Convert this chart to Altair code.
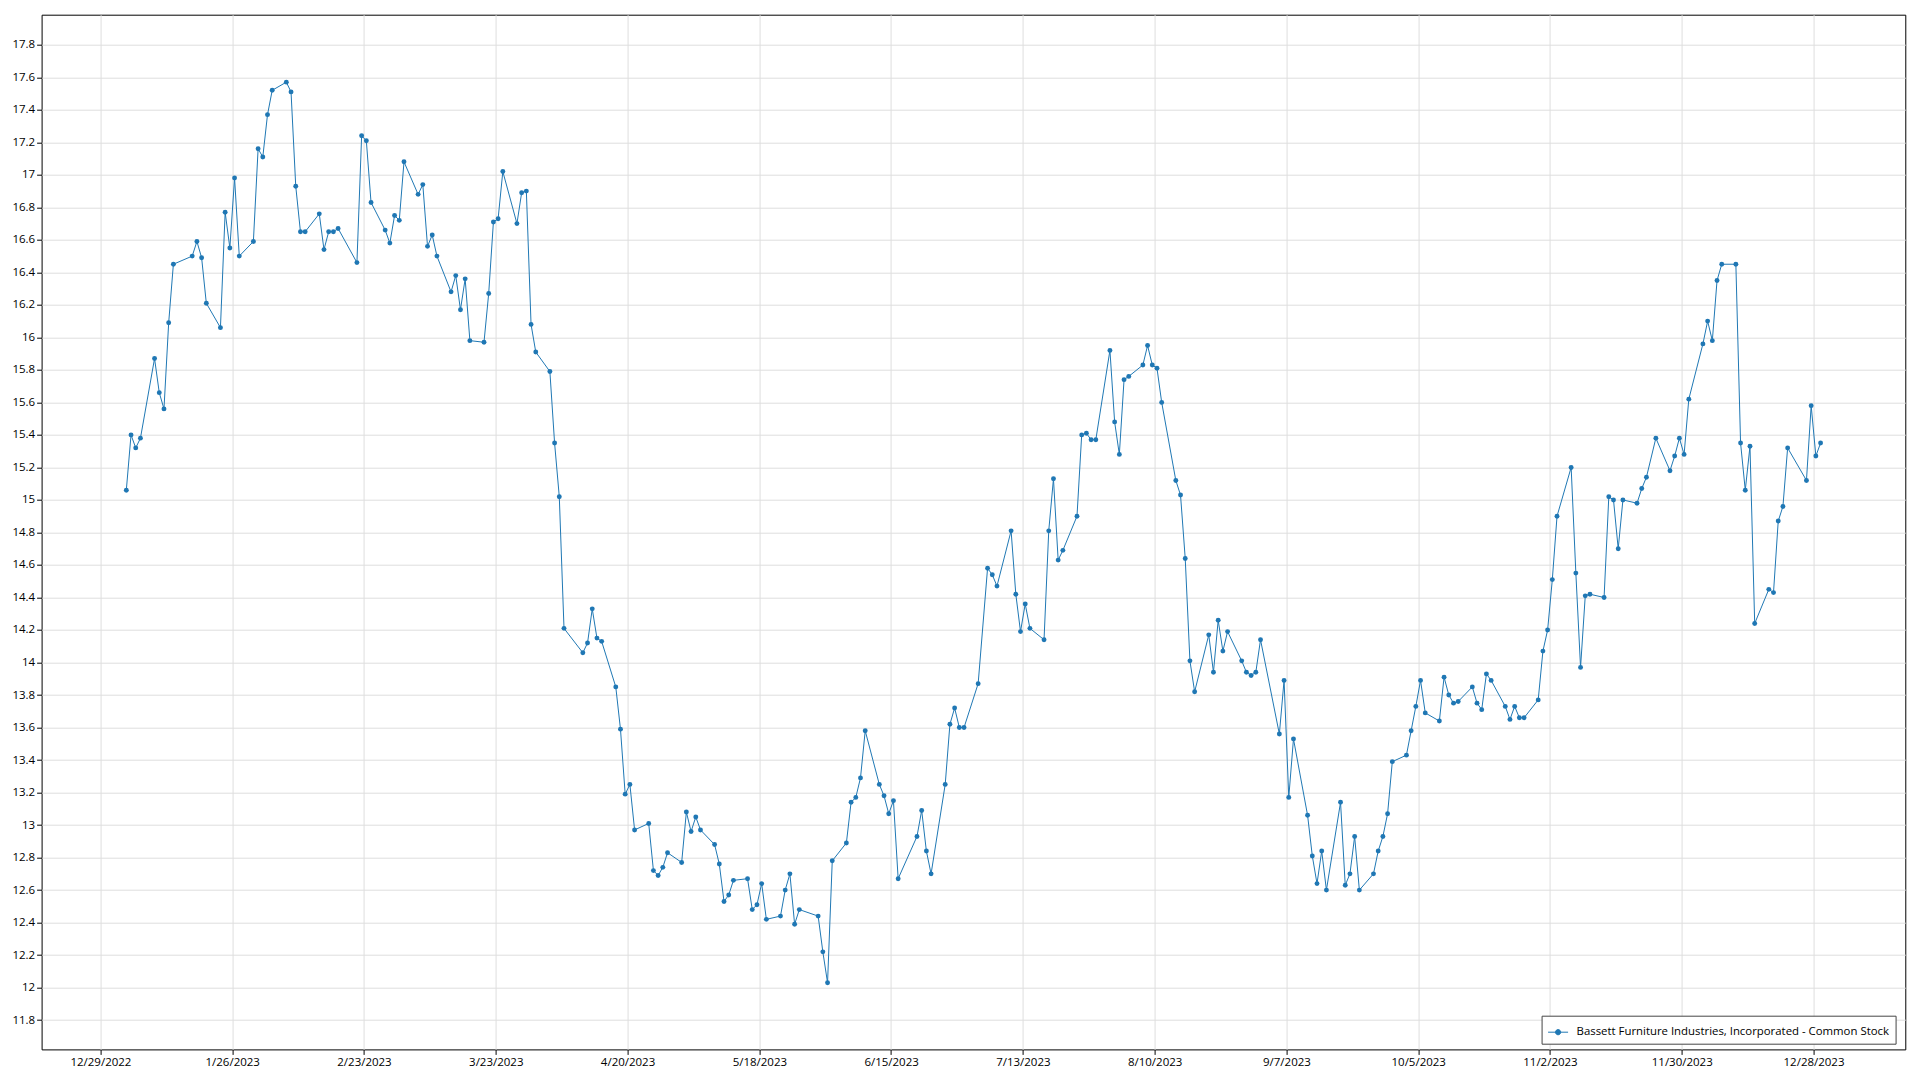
import altair as alt
import pandas as pd

SERIES = "Bassett Furniture Industries, Incorporated - Common Stock"
BLUE = "#1f77b4"

dates = [
    "2023-01-03", "2023-01-04", "2023-01-05", "2023-01-06", "2023-01-09", "2023-01-10", "2023-01-11", "2023-01-12",
    "2023-01-13", "2023-01-17", "2023-01-18", "2023-01-19", "2023-01-20", "2023-01-23", "2023-01-24", "2023-01-25",
    "2023-01-26", "2023-01-27", "2023-01-30", "2023-01-31",
    "2023-02-01", "2023-02-02", "2023-02-03", "2023-02-06", "2023-02-07", "2023-02-08", "2023-02-09", "2023-02-10",
    "2023-02-13", "2023-02-14", "2023-02-15", "2023-02-16", "2023-02-17", "2023-02-21", "2023-02-22", "2023-02-23",
    "2023-02-24", "2023-02-27", "2023-02-28",
    "2023-03-01", "2023-03-02", "2023-03-03", "2023-03-06", "2023-03-07", "2023-03-08", "2023-03-09", "2023-03-10",
    "2023-03-13", "2023-03-14", "2023-03-15", "2023-03-16", "2023-03-17", "2023-03-20", "2023-03-21", "2023-03-22",
    "2023-03-23", "2023-03-24", "2023-03-27", "2023-03-28", "2023-03-29", "2023-03-30", "2023-03-31",
    "2023-04-03", "2023-04-04", "2023-04-05", "2023-04-06", "2023-04-10", "2023-04-11", "2023-04-12", "2023-04-13",
    "2023-04-14", "2023-04-17", "2023-04-18", "2023-04-19", "2023-04-20", "2023-04-21", "2023-04-24", "2023-04-25",
    "2023-04-26", "2023-04-27", "2023-04-28",
    "2023-05-01", "2023-05-02", "2023-05-03", "2023-05-04", "2023-05-05", "2023-05-08", "2023-05-09", "2023-05-10",
    "2023-05-11", "2023-05-12", "2023-05-15", "2023-05-16", "2023-05-17", "2023-05-18", "2023-05-19", "2023-05-22",
    "2023-05-23", "2023-05-24", "2023-05-25", "2023-05-26", "2023-05-30", "2023-05-31",
    "2023-06-01", "2023-06-02", "2023-06-05", "2023-06-06", "2023-06-07", "2023-06-08", "2023-06-09", "2023-06-12",
    "2023-06-13", "2023-06-14", "2023-06-15", "2023-06-16", "2023-06-20", "2023-06-21", "2023-06-22", "2023-06-23",
    "2023-06-26", "2023-06-27", "2023-06-28", "2023-06-29", "2023-06-30",
    "2023-07-03", "2023-07-05", "2023-07-06", "2023-07-07", "2023-07-10", "2023-07-11", "2023-07-12", "2023-07-13",
    "2023-07-14", "2023-07-17", "2023-07-18", "2023-07-19", "2023-07-20", "2023-07-21", "2023-07-24", "2023-07-25",
    "2023-07-26", "2023-07-27", "2023-07-28", "2023-07-31",
    "2023-08-01", "2023-08-02", "2023-08-03", "2023-08-04", "2023-08-07", "2023-08-08", "2023-08-09", "2023-08-10",
    "2023-08-11", "2023-08-14", "2023-08-15", "2023-08-16", "2023-08-17", "2023-08-18", "2023-08-21", "2023-08-22",
    "2023-08-23", "2023-08-24", "2023-08-25", "2023-08-28", "2023-08-29", "2023-08-30", "2023-08-31",
    "2023-09-01", "2023-09-05", "2023-09-06", "2023-09-07", "2023-09-08", "2023-09-11", "2023-09-12", "2023-09-13",
    "2023-09-14", "2023-09-15", "2023-09-18", "2023-09-19", "2023-09-20", "2023-09-21", "2023-09-22", "2023-09-25",
    "2023-09-26", "2023-09-27", "2023-09-28", "2023-09-29",
    "2023-10-02", "2023-10-03", "2023-10-04", "2023-10-05", "2023-10-06", "2023-10-09", "2023-10-10", "2023-10-11",
    "2023-10-12", "2023-10-13", "2023-10-16", "2023-10-17", "2023-10-18", "2023-10-19", "2023-10-20", "2023-10-23",
    "2023-10-24", "2023-10-25", "2023-10-26", "2023-10-27", "2023-10-30", "2023-10-31",
    "2023-11-01", "2023-11-02", "2023-11-03", "2023-11-06", "2023-11-07", "2023-11-08", "2023-11-09", "2023-11-10",
    "2023-11-13", "2023-11-14", "2023-11-15", "2023-11-16", "2023-11-17", "2023-11-20", "2023-11-21", "2023-11-22",
    "2023-11-24", "2023-11-27", "2023-11-28", "2023-11-29", "2023-11-30",
    "2023-12-01", "2023-12-04", "2023-12-05", "2023-12-06", "2023-12-07", "2023-12-08", "2023-12-11", "2023-12-12",
    "2023-12-13", "2023-12-14", "2023-12-15", "2023-12-18", "2023-12-19", "2023-12-20", "2023-12-21", "2023-12-22",
    "2023-12-26", "2023-12-27", "2023-12-28", "2023-12-29",
]

close = [
    15.06, 15.40, 15.32, 15.38, 15.87, 15.66, 15.56, 16.09, 16.45, 16.50, 16.59, 16.49, 16.21, 16.06, 16.77, 16.55,
    16.98, 16.50, 16.59, 17.16,
    17.11, 17.37, 17.52, 17.57, 17.51, 16.93, 16.65, 16.65, 16.76, 16.54, 16.65, 16.65, 16.67, 16.46, 17.24, 17.21,
    16.83, 16.66, 16.58,
    16.75, 16.72, 17.08, 16.88, 16.94, 16.56, 16.63, 16.50, 16.28, 16.38, 16.17, 16.36, 15.98, 15.97, 16.27, 16.71,
    16.73, 17.02, 16.70, 16.89, 16.90, 16.08, 15.91,
    15.79, 15.35, 15.02, 14.21, 14.06, 14.12, 14.33, 14.15, 14.13, 13.85, 13.59, 13.19, 13.25, 12.97, 13.01, 12.72,
    12.69, 12.74, 12.83,
    12.77, 13.08, 12.96, 13.05, 12.97, 12.88, 12.76, 12.53, 12.57, 12.66, 12.67, 12.48, 12.51, 12.64, 12.42, 12.44,
    12.60, 12.70, 12.39, 12.48, 12.44, 12.22,
    12.03, 12.78, 12.89, 13.14, 13.17, 13.29, 13.58, 13.25, 13.18, 13.07, 13.15, 12.67, 12.93, 13.09, 12.84, 12.70,
    13.25, 13.62, 13.72, 13.60, 13.60,
    13.87, 14.58, 14.54, 14.47, 14.81, 14.42, 14.19, 14.36, 14.21, 14.14, 14.81, 15.13, 14.63, 14.69, 14.90, 15.40,
    15.41, 15.37, 15.37, 15.92,
    15.48, 15.28, 15.74, 15.76, 15.83, 15.95, 15.83, 15.81, 15.60, 15.12, 15.03, 14.64, 14.01, 13.82, 14.17, 13.94,
    14.26, 14.07, 14.19, 14.01, 13.94, 13.92, 13.94,
    14.14, 13.56, 13.89, 13.17, 13.53, 13.06, 12.81, 12.64, 12.84, 12.60, 13.14, 12.63, 12.70, 12.93, 12.60, 12.70,
    12.84, 12.93, 13.07, 13.39,
    13.43, 13.58, 13.73, 13.89, 13.69, 13.64, 13.91, 13.80, 13.75, 13.76, 13.85, 13.75, 13.71, 13.93, 13.89, 13.73,
    13.65, 13.73, 13.66, 13.66, 13.77, 14.07,
    14.20, 14.51, 14.90, 15.20, 14.55, 13.97, 14.41, 14.42, 14.40, 15.02, 15.00, 14.70, 15.00, 14.98, 15.07, 15.14,
    15.38, 15.18, 15.27, 15.38, 15.28,
    15.62, 15.96, 16.10, 15.98, 16.35, 16.45, 16.45, 15.35, 15.06, 15.33, 14.24, 14.45, 14.43, 14.87, 14.96, 15.32,
    15.12, 15.58, 15.27, 15.35,
]

x_tick_dates = [
    "2022-12-29", "2023-01-26", "2023-02-23", "2023-03-23", "2023-04-20", "2023-05-18", "2023-06-15",
    "2023-07-13", "2023-08-10", "2023-09-07", "2023-10-05", "2023-11-02", "2023-11-30", "2023-12-28",
]
y_ticks = [11.8, 12.0, 12.2, 12.4, 12.6, 12.8, 13.0, 13.2, 13.4, 13.6, 13.8, 14.0, 14.2, 14.4, 14.6, 14.8,
           15.0, 15.2, 15.4, 15.6, 15.8, 16.0, 16.2, 16.4, 16.6, 16.8, 17.0, 17.2, 17.4, 17.6, 17.8]
x_range = ["2022-12-16T12:00", "2024-01-16T12:00"]
y_range = [11.62, 17.985]


def to_ms(s, hours=0.0):
    ts = pd.Timestamp(s) + pd.Timedelta(hours=hours)
    return int((ts - pd.Timestamp("1970-01-01")) / pd.Timedelta(milliseconds=1))


df = pd.DataFrame({
    "t": [to_ms(d, 12) for d in dates],
    "close": close,
    "series": [SERIES] * len(dates),
})

FONT = "Segoe UI, Open Sans, sans-serif"
W, H = 1863.7, 1034.7

x_enc = alt.X(
    "t:T",
    scale=alt.Scale(type="utc", domain=[to_ms(v) for v in x_range]),
    axis=alt.Axis(values=[to_ms(v) for v in x_tick_dates],
                  labelExpr="utcFormat(datum.value, '%-m/%-d/%Y')",
                  title=None, labelFlush=False, labelOverlap=False),
)
y_enc = alt.Y(
    "close:Q",
    scale=alt.Scale(domain=y_range, nice=False, zero=False),
    axis=alt.Axis(values=y_ticks, format="~g", title=None, labelOverlap=False, labelFlush=False),
)

base = alt.Chart(df).encode(x=x_enc, y=y_enc)

line = base.mark_line(color=BLUE, strokeWidth=1)

legend_symbol = "M-1,0L1,0M-0.26,0A0.26,0.26,0,1,0,0.26,0A0.26,0.26,0,1,0,-0.26,0Z"

pts = base.mark_point(filled=True, size=24, opacity=1).encode(
    color=alt.Color(
        "series:N",
        scale=alt.Scale(range=[BLUE]),
        legend=alt.Legend(
            title=None, orient="none", legendX=1500, legendY=1001,
            fillColor="white", strokeColor="#444", padding=6, cornerRadius=0,
            symbolType=legend_symbol, symbolSize=400, symbolStrokeWidth=1,
            symbolFillColor=BLUE, symbolStrokeColor=BLUE,
            labelFont=FONT, labelFontSize=11.4, labelColor="#000", labelOffset=8,
            labelLimit=0,
        ),
    )
)

chart = alt.layer(line, pts).properties(
    width=W, height=H,
    autosize=alt.AutoSizeParams(type="none"),
    padding={"left": 33.6, "top": 6.7, "right": 6, "bottom": 18},
).configure_view(
    stroke="#000", strokeWidth=1,
).configure_axis(
    domain=False, grid=True, gridColor="#dedede", gridWidth=1,
    ticks=True, tickColor="#000", tickSize=5,
    labelFont=FONT, labelFontSize=11.5, labelColor="#000", labelPadding=2,
)

chart.save("out.html", embed_options={"renderer": "svg", "actions": False})
